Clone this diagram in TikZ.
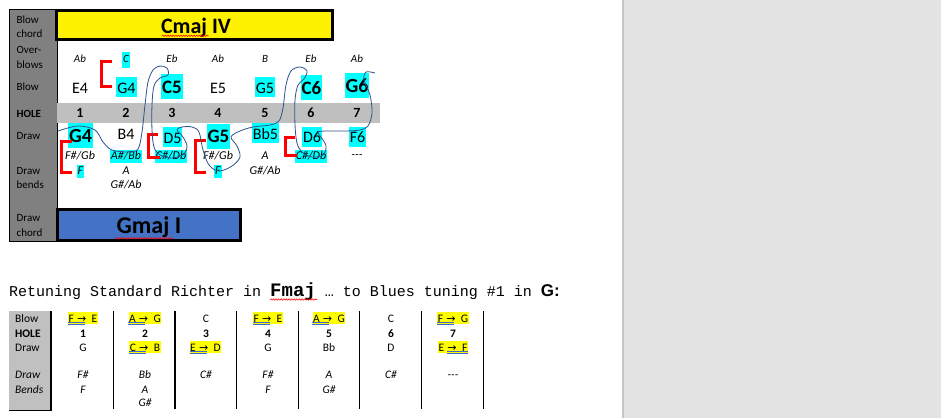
\documentclass[tikz,border=0pt]{standalone}
\usepackage{fontspec}
\setmainfont{Carlito}
\newfontfamily\monof{Liberation Mono}
\newfontfamily\arialf{Liberation Sans}
\newfontfamily\arrf{DejaVu Sans}
\usetikzlibrary{decorations.pathmorphing}
\definecolor{hlcyan}{RGB}{0,255,255}
\definecolor{hlyel}{RGB}{255,255,0}
\definecolor{colgray}{RGB}{128,128,128}
\definecolor{holegray}{RGB}{191,191,191}
\definecolor{panelgray}{RGB}{227,227,227}
\definecolor{panelline}{RGB}{198,198,198}
\definecolor{gblue}{RGB}{68,114,196}
\definecolor{penblue}{RGB}{47,82,143}
\definecolor{ulblue}{RGB}{60,100,210}
\definecolor{lgray}{RGB}{192,192,192}
\newcommand\arw{{\arrf\fontsize{11}{12}\selectfont →}}
\newcommand\tr[2]{#1\hspace{3.2pt}\arw\hspace{5.4pt}#2}
\newcommand\dashes{{-}{-}{-}}
\begin{document}
\begin{tikzpicture}[x=1pt,y=-1pt,
  lab/.style={font=\fontsize{11}{13}\selectfont, anchor=base west, inner sep=0pt},
  labb/.style={lab, font=\fontsize{11}{13}\selectfont\bfseries},
  ob/.style={font=\fontsize{11}{13}\selectfont\itshape, anchor=base, inner xsep=0.8pt, inner ysep=0pt, text height=10.5pt, text depth=5pt},
  nt/.style={font=\fontsize{16}{19}\selectfont, anchor=base, inner xsep=1pt, inner ysep=0pt, text height=16pt, text depth=4pt},
  ntb/.style={font=\fontsize{19}{22}\selectfont\bfseries, anchor=base, inner xsep=1pt, inner ysep=0pt, text height=19pt, text depth=6pt},
  ntbb/.style={font=\fontsize{20}{23}\selectfont\bfseries, anchor=base, inner xsep=1pt, inner ysep=0pt, text height=19.5pt, text depth=5.5pt},
  hn/.style={font=\fontsize{14}{16}\selectfont\bfseries, anchor=base, inner sep=0pt},
  bd/.style={font=\fontsize{12}{14}\selectfont\itshape, anchor=base, inner xsep=0.8pt, inner ysep=0pt, text height=9.5pt, text depth=3.5pt},
  hl/.style={fill=hlcyan},
  brk/.style={draw=red, line width=3pt},
  pen/.style={draw=penblue, line width=0.8pt},
  chordbox/.style={draw=black, line width=3pt, inner sep=0pt},
  chordtxt/.style={font=\fontsize{22}{26}\selectfont\bfseries, anchor=base, inner sep=0pt},
  squig/.style={draw=red, line width=0.55pt, decorate, decoration={snake, amplitude=0.7pt, segment length=2.6pt}},
  tl/.style={font=\fontsize{11.5}{13}\selectfont, anchor=base, inner sep=0pt},
  tlb/.style={tl, font=\fontsize{11.5}{13}\selectfont\bfseries},
  tli/.style={tl, font=\fontsize{11.5}{13}\selectfont\itshape},
  yl/.style={font=\fontsize{11.5}{13}\selectfont, anchor=base, fill=hlyel, inner xsep=0.5pt, inner ysep=0pt, text height=10pt, text depth=2pt},
  ul/.style={draw=ulblue, line width=0.7pt},
  sep/.style={draw=black, line width=1.2pt}
]
\useasboundingbox (0,0) rectangle (941,418);
\fill[white] (0,0) rectangle (941,418);
\fill[panelgray] (623,0) rectangle (941,418);
\draw[panelline, line width=1.5pt] (623,0) -- (623,418);

% ===== upper diagram =====
\draw[fill=colgray, line width=0.8pt] (9.4,9.4) rectangle (57,241.6);
\fill[holegray] (57,102.5) rectangle (380,123);

\node[chordbox, fill=yellow, minimum width=276pt, minimum height=29pt] (cbox) at (194.5,25) {};
\node[chordtxt] (ctxt) at (196,33.3) {Cmaj IV};
\draw[squig] (162,35.8) -- (209,35.8);
\node[chordbox, fill=gblue, minimum width=183pt, minimum height=31pt] (gbox) at (149,225) {};
\node[chordtxt, font=\fontsize{24}{28}\selectfont\bfseries] (gtxt) at (149,233) {Gmaj I};
\draw[squig] (115,238.3) -- (173,238.3);

% row labels
\node[lab] (l1) at (16.5,23) {Blow};
\node[lab] (l2) at (16.5,37.5) {chord};
\node[lab] (l3) at (16.5,53.3) {Over-};
\node[lab] (l4) at (16.5,68.3) {blows};
\node[lab] (l5) at (16.5,90.7) {Blow};
\node[labb] (l6) at (16.5,117.3) {HOLE};
\node[lab] (l7) at (16.5,139.3) {Draw};
\node[lab] (l8) at (16.5,174) {Draw};
\node[lab] (l9) at (16.5,188.3) {bends};
\node[lab] (l10) at (16.5,221.7) {Draw};
\node[lab] (l11) at (16.5,236.7) {chord};

% overblows
\node[ob] (o1) at (80,62.3) {Ab};
\node[ob,hl] (o2) at (126,62.8) {C};
\node[ob] (o3) at (172,62.3) {Eb};
\node[ob] (o4) at (218,62.3) {Ab};
\node[ob] (o5) at (265,62.3) {B};
\node[ob] (o6) at (311,62.3) {Eb};
\node[ob] (o7) at (357,62.3) {Ab};

% blow notes
\node[nt] (b1) at (80,93.3) {E4};
\node[nt,hl] (b2) at (126.5,93.3) {G4};
\node[ntb,hl] (b3) at (172,93.3) {C5};
\node[nt] (b4) at (218,93.3) {E5};
\node[nt,hl] (b5) at (265,93.3) {G5};
\node[ntb,hl] (b6) at (311.5,94) {C6};
\node[ntbb,hl] (b7) at (357,92) {G6};

% hole numbers
\node[hn] (h1) at (80,117.3) {1};
\node[hn] (h2) at (126,117.3) {2};
\node[hn] (h3) at (172,117.3) {3};
\node[hn] (h4) at (218,117.3) {4};
\node[hn] (h5) at (265,117.3) {5};
\node[hn] (h6) at (311,117.3) {6};
\node[hn] (h7) at (357,117.3) {7};

% draw notes
\node[ntbb,hl] (d1) at (80.5,142.5) {G4};
\node[nt] (d2) at (126,139) {B4};
\node[nt,hl] (d3) at (172.5,143) {D5};
\node[ntb,hl] (d4) at (218.5,142.7) {G5};
\node[nt,hl] (d5) at (265.5,139.3) {Bb5};
\node[nt,hl] (d6) at (312,142.7) {D6};
\node[nt,hl] (d7) at (357.5,142.7) {F6};

% bends
\node[bd] (e11) at (80,159) {F\#/Gb};
\node[bd,hl] (e21) at (126,159) {A\#/Bb};
\node[bd,hl] (e31) at (171,159) {C\#/Db};
\node[bd] (e41) at (218,159) {F\#/Gb};
\node[bd] (e51) at (265,159) {A};
\node[bd,hl] (e61) at (311,159) {C\#/Db};
\node[bd] (e71) at (357,158) {\dashes};
\node[bd,hl] (e12) at (80.5,174.3) {F};
\node[bd] (e22) at (126,174.3) {A};
\node[bd,hl] (e42) at (218,174.3) {F};
\node[bd] (e52) at (265,174.3) {G\#/Ab};
\node[bd] (e23) at (126,188.3) {G\#/Ab};

% red brackets
\draw[brk] (112,61) -- (101,61) -- (101,86) -- (112,86);
\draw[brk] (72,141) -- (61,141) -- (61,172) -- (72,172);
\draw[brk] (158,134) -- (148,134) -- (148,157) -- (160,157);
\draw[brk] (206,140) -- (195,140) -- (195,172) -- (206,172);
\draw[brk] (295,137) -- (285,137) -- (285,155) -- (297,155);

% blue pen stroke
\draw[pen] plot[smooth, tension=0.55] coordinates {
 (58,131) (78,126) (95,130) (103,142) (112,150) (128,152) (138,149) (142,132)
 (145,105) (148,82) (153,70) (160,66) (167,68) (168,75) (160,78) (154,86)
 (152,105) (152,130) (154,147) (160,155) (172,158) (184,154) (187,146) (183,137)
 (177,130) (182,127) (192,127) (199,132) (203,150) (209,165) (219,171) (232,166)
 (240,157) (237,146) (231,137) (240,131) (253,127) (270,125) (279,121) (283,108)
 (286,85) (291,71) (300,67) (307,71) (304,79) (298,85) (295,100) (295,125)
 (297,143) (302,152) (312,157) (323,155) (326,146) (321,137) (318,132) (327,131)
 (345,131) (360,130) (368,126) (372,113) (370,95) (364,80) (366,72) (375,73)};

% ===== heading =====
\node[anchor=base west, inner sep=0pt] (head) at (9,296)
 {\monof\fontsize{15}{18}\selectfont Retuning Standard Richter in {\bfseries\fontsize{19}{20}\selectfont Fmaj} … to Blues tuning \#1 in {\arialf\bfseries\fontsize{17}{20}\selectfont G:}};
\draw[squig] (270,299.5) -- (317,299.5);

% ===== lower table =====
\fill[lgray] (9,311) rectangle (51,410);
\draw[black, line width=1.2pt] (51,311) -- (51,410.5) -- (9,410.5);
\node[tl, anchor=base west] (tl1) at (15,322.3) {Blow};
\node[tlb, anchor=base west] (tl2) at (15,337.3) {HOLE};
\node[tl, anchor=base west] (tl3) at (15,351) {Draw};
\node[tli, anchor=base west] (tl4) at (15,378.3) {Draw};
\node[tli, anchor=base west] (tl5) at (15,393.3) {Bends};

\foreach \sx in {113.3,175,236.7,298.3,359.3,421.7,483.3}
  \draw[sep] (\sx,311) -- (\sx,409);

% column 1
\node[yl] (c1b) at (83,322.3) {\tr{F}{E}};
\node[tlb] (c1h) at (83,337.3) {1};
\node[tl] (c1d) at (83,351) {G};
\node[tli] (c1e1) at (83,378.3) {F\#};
\node[tli] (c1e2) at (83,393.3) {F};
% column 2
\node[yl] (c2b) at (145,322.3) {\tr{A}{G}};
\node[tlb] (c2h) at (145,337.3) {2};
\node[yl] (c2d) at (145,351) {\tr{C}{B}};
\node[tli] (c2e1) at (145,378.3) {Bb};
\node[tli] (c2e2) at (145,393.3) {A};
\node[tli] (c2e3) at (145,406.7) {G\#};
% column 3
\node[tl] (c3b) at (206,322.3) {C};
\node[tlb] (c3h) at (206,337.3) {3};
\node[yl] (c3d) at (205.5,351) {\tr{E}{D}};
\node[tli] (c3e1) at (206,378.3) {C\#};
% column 4
\node[yl] (c4b) at (268,322.3) {\tr{F}{E}};
\node[tlb] (c4h) at (268,337.3) {4};
\node[tl] (c4d) at (268,351) {G};
\node[tli] (c4e1) at (268,378.3) {F\#};
\node[tli] (c4e2) at (268,393.3) {F};
% column 5
\node[yl] (c5b) at (329,322.3) {\tr{A}{G}};
\node[tlb] (c5h) at (329,337.3) {5};
\node[tl] (c5d) at (329,351) {Bb};
\node[tli] (c5e1) at (329,378.3) {A};
\node[tli] (c5e2) at (329,393.3) {G\#};
% column 6
\node[tl] (c6b) at (391,322.3) {C};
\node[tlb] (c6h) at (391,337.3) {6};
\node[tl] (c6d) at (391,351) {D};
\node[tli] (c6e1) at (391,378.3) {C\#};
% column 7
\node[yl] (c7b) at (453,322.3) {\tr{F}{G}};
\node[tlb] (c7h) at (453,337.3) {7};
\node[yl] (c7d) at (453,351) {\tr{E}{F}};
\node[tli] (c7e1) at (453,378.3) {\dashes};

% grammar double underlines
\foreach \n in {c1b,c2b,c2d,c3d,c4b,c5b,c7b}{
  \draw[ul] ([yshift=1.7pt]\n.south west) -- ++(17,0);
  \draw[ul] ([yshift=0.2pt]\n.south west) -- ++(17,0);
}
\draw[ul] ([xshift=-21pt,yshift=1.7pt]c7d.south east) -- ++(21,0);
\draw[ul] ([xshift=-21pt,yshift=0.2pt]c7d.south east) -- ++(21,0);
\end{tikzpicture}
\end{document}
